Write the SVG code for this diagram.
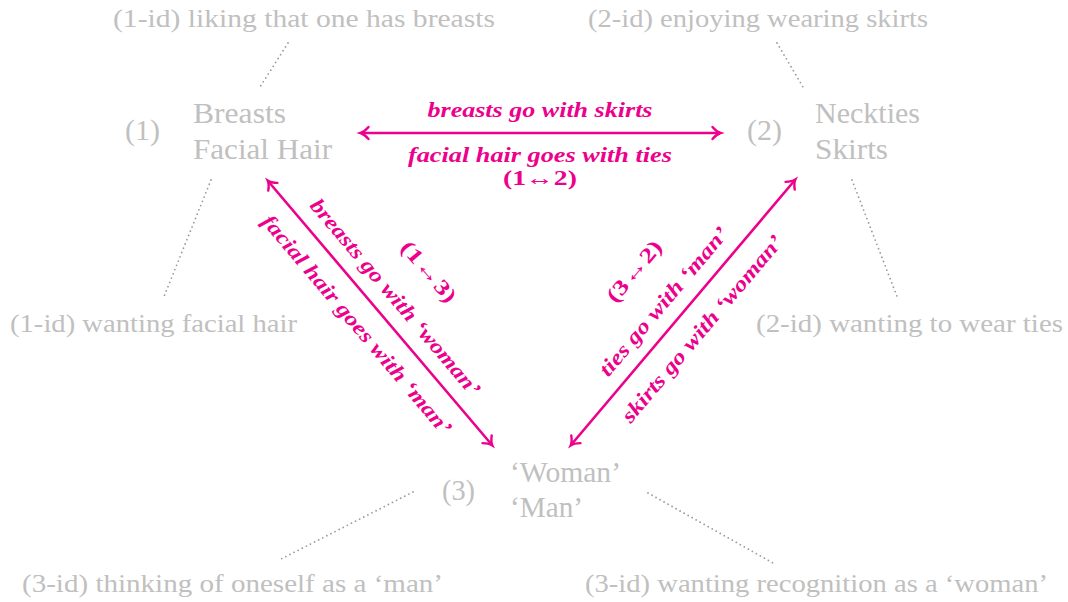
<svg xmlns="http://www.w3.org/2000/svg" width="1068" height="602" viewBox="0 0 1068 602">
<style>
.id{font-family:"Liberation Serif","DejaVu Serif",serif;font-size:26px;fill:#c0c0c0}
.nd{font-family:"Liberation Serif","DejaVu Serif",serif;font-size:29px;fill:#c0c0c0}
.lb{font-family:"Liberation Serif","DejaVu Serif",serif;font-size:21px;font-weight:bold;font-style:italic;fill:#ec008c}
.num{font-family:"Liberation Serif","DejaVu Serif",serif;font-size:21px;font-weight:bold;fill:#ec008c}
.dot{stroke:#9a9a9a;stroke-width:1.8;stroke-dasharray:0 4.6;stroke-linecap:round;fill:none}
.arr{stroke:#ec008c;stroke-width:2.6;fill:none;marker-start:url(#ah);marker-end:url(#ah)}
</style>
<defs>
<marker id="ah" markerUnits="userSpaceOnUse" orient="auto-start-reverse" refX="0" refY="0" markerWidth="20" markerHeight="20" viewBox="-10 -10 20 20" overflow="visible">
<path d="M -7.5 -6 C -4.5 -2.5 -1.5 -0.6 0.5 0 C -1.5 0.6 -4.5 2.5 -7.5 6" stroke="#ec008c" stroke-width="2.4" fill="none" stroke-linecap="round"/>
</marker>
</defs>

<g id="identities">
<text class="id" x="113" y="27" textLength="382" lengthAdjust="spacingAndGlyphs">(1-id) liking that one has breasts</text>
<text class="id" x="588" y="27" textLength="340" lengthAdjust="spacingAndGlyphs">(2-id) enjoying wearing skirts</text>
<text class="id" x="10" y="332" textLength="287" lengthAdjust="spacingAndGlyphs">(1-id) wanting facial hair</text>
<text class="id" x="756" y="332" textLength="307" lengthAdjust="spacingAndGlyphs">(2-id) wanting to wear ties</text>
<text class="id" x="22" y="592" textLength="421" lengthAdjust="spacingAndGlyphs">(3-id) thinking of oneself as a ‘man’</text>
<text class="id" x="585" y="592" textLength="463" lengthAdjust="spacingAndGlyphs">(3-id) wanting recognition as a ‘woman’</text>
</g>

<g id="node1">
<text class="nd" x="125" y="140" textLength="35" lengthAdjust="spacingAndGlyphs">(1)</text>
<text class="nd" x="193" y="123" textLength="93" lengthAdjust="spacingAndGlyphs">Breasts</text>
<text class="nd" x="193" y="159" textLength="139" lengthAdjust="spacingAndGlyphs">Facial Hair</text>
</g>
<g id="node2">
<text class="nd" x="747" y="140" textLength="35" lengthAdjust="spacingAndGlyphs">(2)</text>
<text class="nd" x="815" y="123" textLength="105" lengthAdjust="spacingAndGlyphs">Neckties</text>
<text class="nd" x="815" y="159" textLength="73" lengthAdjust="spacingAndGlyphs">Skirts</text>
</g>
<g id="node3">
<text class="nd" x="442" y="500" textLength="33" lengthAdjust="spacingAndGlyphs">(3)</text>
<text class="nd" x="510" y="482" textLength="111" lengthAdjust="spacingAndGlyphs">‘Woman’</text>
<text class="nd" x="510" y="517" textLength="73" lengthAdjust="spacingAndGlyphs">‘Man’</text>
</g>

<g id="connectors">
<line class="dot" x1="288" y1="43" x2="260" y2="87"/>
<line class="dot" x1="777" y1="43" x2="803" y2="87"/>
<line class="dot" x1="211" y1="180" x2="163" y2="299"/>
<line class="dot" x1="852" y1="180" x2="898" y2="299"/>
<line class="dot" x1="413" y1="492" x2="279" y2="560"/>
<line class="dot" x1="648" y1="493" x2="773" y2="563"/>
<line class="arr" x1="361" y1="133" x2="720" y2="133"/>
<line class="arr" x1="268" y1="181" x2="492" y2="445"/>
<line class="arr" x1="795" y1="180" x2="571" y2="445"/>
</g>

<g id="labels12">
<text class="lb" x="540" y="117" text-anchor="middle" textLength="225" lengthAdjust="spacingAndGlyphs">breasts go with skirts</text>
<text class="lb" x="540" y="162" text-anchor="middle" textLength="264" lengthAdjust="spacingAndGlyphs">facial hair goes with ties</text>
<text class="num" x="540" y="185" text-anchor="middle" textLength="74" lengthAdjust="spacingAndGlyphs">(1↔2)</text>
</g>
<g id="labels13" transform="translate(380,313) rotate(49.7)">
<text class="lb" x="-2" y="-15" text-anchor="middle" textLength="251" lengthAdjust="spacingAndGlyphs">breasts go with ‘woman’</text>
<text class="lb" x="-6" y="32" text-anchor="middle" textLength="281" lengthAdjust="spacingAndGlyphs">facial hair goes with ‘man’</text>
<text class="num" x="0" y="-57" text-anchor="middle" textLength="74" lengthAdjust="spacingAndGlyphs">(1↔3)</text>
</g>
<g id="labels32" transform="translate(683,312.5) rotate(-49.8)">
<text class="lb" x="-4" y="-15" text-anchor="middle" textLength="188" lengthAdjust="spacingAndGlyphs">ties go with ‘man’</text>
<text class="lb" x="0" y="32" text-anchor="middle" textLength="238" lengthAdjust="spacingAndGlyphs">skirts go with ‘woman’</text>
<text class="num" x="0" y="-57" text-anchor="middle" textLength="74" lengthAdjust="spacingAndGlyphs">(3↔2)</text>
</g>
</svg>
